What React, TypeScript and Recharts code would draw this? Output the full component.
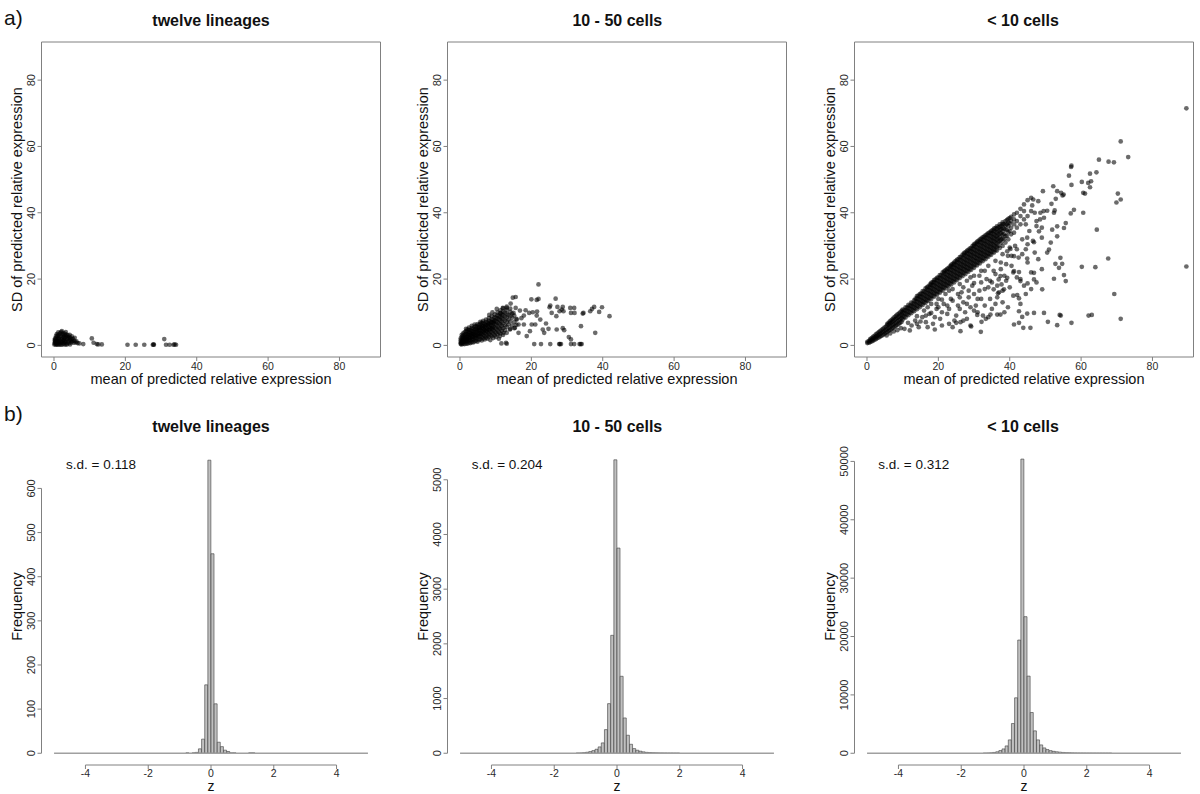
import React from 'react';
import {
  ScatterChart,
  Scatter,
  BarChart,
  Bar,
  XAxis,
  YAxis,
  ReferenceArea,
  ReferenceLine,
  Label,
} from 'recharts';

const FONT = '"Liberation Sans", Arial, Helvetica, sans-serif';
const AXIS = '#808080';
const TICK_TEXT = '#2a2a2a';
const TEXT = '#111';

// ---------- text ----------
const panelTitles = ['twelve lineages', '10 - 50 cells', '< 10 cells'];
const sdLabels = ['s.d. = 0.118', 's.d. = 0.204', 's.d. = 0.312'];
const scatterXTitle = 'mean of predicted relative expression';
const scatterYTitle = 'SD of predicted relative expression';

// ---------- ticks / limits ----------
const scatterTicks = [0, 20, 40, 60, 80];
const scatterDomain: [number, number] = [-3.5, 91.5];
const zTicks = [-4, -2, 0, 2, 4];
const zDomain: [number, number] = [-5.4, 5.4];
const freqTicks1 = [0, 100, 200, 300, 400, 500, 600];
const freqTicks2 = [0, 1000, 2000, 3000, 4000, 5000];
const freqTicks3 = [0, 10000, 20000, 30000, 40000, 50000];
const freqDomain1: [number, number] = [-26.6, 691.6];
const freqDomain2: [number, number] = [-215, 5581];
const freqDomain3: [number, number] = [-2011, 52297];

// ---------- scatter data: [mean, SD] ----------
const lineagePoints: [number, number][] = [
  [0.1, 0.3], [0.2, 0.8], [0.3, 1.3], [0.4, 0.5], [0.5, 1.8], [0.6, 0.9], [0.7, 2.3], [0.8, 0.4],
  [0.9, 1.4], [1.0, 2.8], [1.1, 0.7], [1.2, 1.9], [1.3, 3.2], [1.4, 1.1], [1.5, 2.4], [1.6, 0.5],
  [1.7, 3.6], [1.8, 1.5], [1.9, 2.8], [2.0, 4.0], [2.1, 0.8], [2.2, 2.0], [2.3, 3.3], [2.4, 1.2],
  [2.5, 2.6], [2.6, 3.7], [2.7, 0.6], [2.8, 1.7], [2.9, 3.0], [3.0, 2.2], [3.1, 3.5], [3.2, 0.9],
  [3.3, 1.4], [3.4, 2.7], [3.5, 3.2], [3.6, 0.5], [3.7, 1.9], [3.8, 2.4], [3.9, 3.0], [4.0, 1.2],
  [4.1, 2.0], [4.2, 0.7], [4.3, 2.6], [4.5, 1.5], [4.6, 2.2], [4.8, 0.9], [4.9, 1.8], [5.1, 1.3],
  [5.3, 2.0], [5.5, 0.8], [5.7, 1.4], [6.0, 0.9], [6.3, 1.2], [6.6, 0.7], [7.1, 0.6], [8.2, 0.4],
  [10.6, 2.1], [11.1, 0.8], [12.0, 0.4], [12.4, 0.3], [13.4, 0.3], [20.6, 0.2], [22.9, 0.2],
  [25.3, 0.2], [27.7, 0.2], [28.0, 0.2], [27.9, 0.3], [30.9, 1.9], [31.4, 0.2], [32.4, 0.2],
  [33.5, 0.2], [33.8, 0.3], [34.2, 0.2], [0.3, 2.1], [0.6, 2.9], [1.2, 3.9], [0.2, 1.6], [1.5, 0.2],
  [2.4, 0.3], [3.0, 0.3], [0.8, 3.4], [2.2, 4.3], [3.3, 4.0], [4.4, 3.2], [5.0, 2.7], [5.8, 2.3],
  [0.5, 0.2], [1.0, 0.2], [2.0, 0.2], [3.5, 0.2], [4.5, 0.3], [1.1, 1.2], [1.9, 1.1], [2.6, 1.6],
  [3.1, 1.1], [0.4, 1.1], [1.4, 2.0], [2.8, 2.4],
];

// 10 - 50 cells: dense cloud as columns [mean, SDs...], then scattered points
const midCloud: [number, number[]][] = [
  [0.2, [0.4, 0.9, 1.5, 2.1]],
  [0.5, [0.3, 0.8, 1.3, 1.9, 2.6, 3.2]],
  [0.9, [0.5, 1.0, 1.6, 2.2, 2.9, 3.6]],
  [1.3, [0.4, 1.1, 1.8, 2.5, 3.2, 4.0]],
  [1.7, [0.6, 1.3, 2.0, 2.8, 3.5, 4.3, 5.0]],
  [2.1, [0.5, 1.2, 1.9, 2.6, 3.4, 4.1, 4.8]],
  [2.5, [0.8, 1.6, 2.4, 3.2, 4.0, 4.7, 5.4]],
  [2.9, [0.7, 1.5, 2.3, 3.1, 3.9, 4.6]],
  [3.3, [1.0, 1.9, 2.8, 3.6, 4.4, 5.2, 5.9]],
  [3.7, [0.9, 1.7, 2.6, 3.4, 4.2, 5.0]],
  [4.1, [1.2, 2.1, 3.0, 3.9, 4.8, 5.6, 6.3]],
  [4.5, [1.4, 2.3, 3.2, 4.1, 5.0, 5.8]],
  [4.9, [1.1, 2.0, 2.9, 3.8, 4.7, 5.6, 6.4]],
  [5.3, [1.6, 2.6, 3.5, 4.4, 5.3, 6.1]],
  [5.7, [1.9, 2.9, 3.8, 4.7, 5.6, 6.5, 7.1]],
  [6.1, [1.5, 2.5, 3.4, 4.3, 5.2, 6.0, 6.8]],
  [6.5, [2.1, 3.1, 4.1, 5.0, 5.9, 6.8, 7.4]],
  [6.9, [1.8, 2.8, 3.8, 4.7, 5.6, 6.5]],
  [7.3, [2.3, 3.3, 4.3, 5.3, 6.2, 7.1, 7.8]],
  [7.7, [2.0, 3.0, 4.0, 5.0, 6.0, 6.9]],
  [8.1, [2.6, 3.6, 4.6, 5.6, 6.6, 7.5, 8.2]],
  [8.5, [1.6, 3.0, 4.1, 5.2, 6.2, 7.2]],
  [8.9, [2.8, 4.0, 5.0, 6.0, 7.0, 7.9, 8.8]],
  [9.3, [2.2, 3.5, 4.6, 5.7, 6.7, 7.7]],
  [9.7, [3.0, 4.2, 5.4, 6.5, 7.5, 8.5, 9.3]],
  [10.1, [2.5, 3.8, 5.0, 6.2, 7.3, 8.3]],
  [10.5, [3.3, 4.6, 5.8, 7.0, 8.1, 9.1, 9.9]],
  [10.9, [2.0, 4.0, 5.3, 6.6, 7.8, 8.8]],
  [11.3, [3.6, 5.0, 6.3, 7.5, 8.6, 9.7, 10.6]],
  [11.7, [4.4, 5.8, 7.1, 8.3, 9.4]],
  [12.1, [3.2, 5.2, 6.6, 7.9, 9.1, 10.2, 11.2]],
  [12.6, [4.6, 6.0, 7.4, 8.7, 9.9]],
  [13.1, [3.8, 5.6, 7.0, 8.3, 9.5, 10.7, 11.7]],
  [13.6, [6.3, 7.8, 9.2]],
  [14.1, [5.0, 7.2, 8.8, 10.1, 11.1]],
  [14.6, [6.0, 8.3, 9.6]],
  [15.2, [5.2, 7.0, 9.0]],
  [15.8, [6.2, 8.0]],
];
const midScatter: [number, number][] = [
  [22.0, 18.4], [15.6, 14.6], [14.8, 14.4], [26.8, 14.1], [20.0, 13.9], [21.5, 13.7], [25.1, 11.5],
  [27.3, 11.6], [28.8, 11.6], [30.9, 11.3], [32.0, 11.3], [27.9, 10.3], [29.0, 10.3], [28.5, 10.8],
  [31.1, 9.8], [32.1, 9.8], [34.4, 9.6], [34.6, 9.8], [37.6, 11.6], [37.0, 11.0], [36.5, 10.3],
  [39.0, 10.1], [39.8, 11.5], [41.9, 8.8], [27.0, 8.8], [25.7, 9.8], [25.3, 12.0], [20.4, 10.0],
  [21.5, 9.0], [22.5, 7.8], [21.1, 6.3], [20.1, 6.3], [24.1, 6.6], [27.1, 4.8], [29.2, 4.6],
  [23.2, 4.8], [23.6, 3.8], [19.6, 4.3], [17.9, 6.3], [17.9, 9.0], [19.4, 9.8], [18.7, 2.8],
  [16.4, 3.8], [33.9, 5.8], [37.9, 3.8], [31.1, 1.8], [20.8, 0.4], [22.7, 0.4], [25.3, 0.4],
  [27.8, 0.4], [28.0, 0.4], [28.3, 0.4], [31.1, 0.4], [32.0, 0.4], [33.5, 0.4], [33.8, 0.4],
  [34.1, 0.4], [13.1, 0.5], [14.2, 12.6], [13.1, 11.3], [12.0, 11.3], [11.4, 9.8], [15.6, 11.3],
  [15.0, 9.8], [15.9, 7.8], [16.4, 6.3], [15.4, 5.3], [14.0, 4.8], [12.2, 3.8], [11.2, 2.8],
  [12.9, 0.8], [11.6, 0.6], [16.8, 10.5], [17.2, 8.2], [18.4, 10.6], [22.0, 14.0], [21.6, 10.2],
  [24.8, 5.0], [28.8, 5.2], [30.5, 2.5], [10.3, 11.0], [9.1, 10.0], [8.2, 9.2],
  [0.3, 0.6], [0.7, 1.1], [1.1, 1.4], [1.5, 2.2], [1.9, 1.6], [2.3, 2.9], [2.7, 2.0], [3.1, 3.3],
  [3.5, 2.4], [3.9, 3.6], [4.3, 2.7], [4.7, 4.4], [5.1, 3.2], [5.5, 4.9], [5.9, 3.6], [6.3, 5.5],
  [6.7, 4.4], [7.1, 5.9], [7.5, 4.6], [7.9, 6.3], [8.3, 5.0], [8.7, 6.7], [9.1, 5.3], [9.5, 7.1],
];

// < 10 cells: dense band as columns [mean, SDs...], then scattered points
const lowBand: [number, number[]][] = [
  [0.1, [0.7, 1.1]], [0.5, [0.8, 1.3]], [0.9, [1.0, 1.5, 1.9]], [1.3, [1.2, 1.7, 2.2]],
  [1.7, [1.4, 2.0, 2.6]], [2.1, [1.7, 2.3, 2.9]], [2.5, [1.9, 2.6, 3.3]], [2.9, [2.2, 2.9, 3.6]],
  [3.3, [2.4, 3.2, 4.0]], [3.7, [2.7, 3.5, 4.3]], [4.1, [2.9, 3.8, 4.7]], [4.5, [3.2, 4.1, 5.0]],
  [4.9, [3.5, 4.4, 5.4]], [5.3, [3.8, 4.7, 5.7]], [5.7, [4.1, 5.0, 6.1, 6.5]],
  [6.1, [4.4, 5.3, 6.3, 6.9]], [6.5, [4.7, 5.7, 6.7, 7.3]], [6.9, [5.0, 6.0, 7.0, 7.7]],
  [7.3, [5.3, 6.3, 7.3, 8.1]], [7.7, [5.6, 6.6, 7.7, 8.5]], [8.1, [5.9, 6.9, 8.0, 8.9]],
  [8.5, [6.2, 7.3, 8.4, 9.3]], [8.9, [6.5, 7.6, 8.7, 9.6]], [9.3, [6.8, 7.9, 9.0, 10.0]],
  [9.7, [7.1, 8.2, 9.3, 10.4]],
  [10.0, [7.8, 8.9, 10.0, 10.8]], [10.8, [8.4, 9.5, 10.6, 11.5]], [11.6, [9.1, 10.2, 11.3, 12.2]],
  [12.4, [9.7, 10.8, 11.9, 12.9]], [13.2, [10.3, 11.4, 12.5, 13.6]],
  [14.0, [10.9, 12.0, 13.1, 14.2, 14.9]], [14.8, [11.5, 12.6, 13.7, 14.8, 15.5]],
  [15.6, [12.2, 13.3, 14.4, 15.5, 16.4]], [16.4, [12.8, 13.9, 15.0, 16.1, 17.2]],
  [17.2, [13.4, 14.5, 15.6, 16.7, 17.8]], [18.0, [14.0, 15.1, 16.2, 17.3, 18.4, 18.9]],
  [18.8, [14.7, 15.8, 16.9, 18.0, 19.1, 19.7]], [19.6, [15.3, 16.4, 17.5, 18.6, 19.7, 20.4]],
  [20.4, [15.9, 17.0, 18.1, 19.2, 20.3, 21.2]], [21.2, [16.5, 17.6, 18.7, 19.8, 20.9, 22.0]],
  [22.0, [17.2, 18.3, 19.4, 20.5, 21.6, 22.7]], [22.8, [17.8, 18.9, 20.0, 21.1, 22.2, 23.3]],
  [23.6, [18.4, 19.5, 20.6, 21.7, 22.8, 23.9, 24.3]], [24.4, [19.0, 20.1, 21.2, 22.3, 23.4, 24.5, 25.0]],
  [25.2, [19.7, 20.8, 21.9, 23.0, 24.1, 25.2, 25.8]], [26.0, [20.3, 21.4, 22.5, 23.6, 24.7, 25.8, 26.6]],
  [26.8, [20.9, 22.0, 23.1, 24.2, 25.3, 26.4, 27.4]], [27.6, [21.5, 22.6, 23.7, 24.8, 25.9, 27.0, 28.1]],
  [28.4, [22.2, 23.3, 24.4, 25.5, 26.6, 27.7, 28.8]], [29.2, [22.8, 23.9, 25.0, 26.1, 27.2, 28.3, 29.4]],
  [30.0, [23.4, 24.5, 25.6, 26.7, 27.8, 28.9, 30.0, 30.5]],
  [30.8, [24.1, 25.2, 26.3, 27.4, 28.5, 29.6, 30.7, 31.2]],
  [31.6, [24.7, 25.8, 26.9, 28.0, 29.1, 30.2, 31.3, 31.9]],
  [32.4, [25.4, 26.5, 27.6, 28.7, 29.8, 30.9, 32.0, 32.6]],
  [33.2, [26.0, 27.1, 28.2, 29.3, 30.4, 31.5, 32.6, 33.2]],
  [34.0, [26.7, 27.8, 28.9, 30.0, 31.1, 32.2, 33.3, 33.9]],
  [34.8, [27.3, 28.4, 29.5, 30.6, 31.7, 32.8, 33.9, 34.5]],
  [35.6, [28.0, 29.1, 30.2, 31.3, 32.4, 33.5, 34.6, 35.2]],
  [36.4, [28.6, 29.7, 30.8, 31.9, 33.0, 34.1, 35.2, 35.9]],
  [37.2, [29.4, 31.5, 32.6, 33.7, 34.8, 35.8, 36.5]],
  [38.0, [30.0, 32.2, 33.3, 34.4, 35.5, 36.6, 37.1]],
  [38.8, [31.0, 33.0, 35.0, 36.2, 37.5]], [39.6, [32.0, 34.2, 36.0, 37.0, 38.2]],
  [40.4, [33.5, 35.5, 37.5, 38.8]], [41.2, [34.0, 36.5, 38.0, 39.5]], [42.0, [35.5, 37.5, 40.0]],
  [43.0, [36.5, 39.0, 41.2]], [44.0, [38.0, 40.5, 42.5]], [45.0, [39.0, 43.8]], [46.0, [40.5, 44.5]],
];
// extra band points lying between the columns above
const lowBandFill: [number, number[]][] = [
  [10.4, [8.6, 9.7, 10.6]], [11.2, [9.3, 10.4, 11.4]], [12.0, [9.9, 11.0, 12.0]],
  [12.8, [10.5, 11.6, 12.7]], [13.6, [11.2, 12.3, 13.4, 14.1]], [14.4, [11.8, 12.9, 14.0, 15.0]],
  [15.2, [12.4, 13.5, 14.6, 15.7]], [16.0, [13.0, 14.1, 15.2, 16.3]],
  [16.8, [13.6, 14.7, 15.8, 16.9, 17.5]], [17.6, [14.3, 15.4, 16.5, 17.6, 18.3]],
  [18.4, [14.9, 16.0, 17.1, 18.2, 19.1]], [19.2, [15.5, 16.6, 17.7, 18.8, 19.9]],
  [20.0, [16.1, 17.2, 18.3, 19.4, 20.5]], [20.8, [16.8, 17.9, 19.0, 20.1, 21.2]],
  [21.6, [17.4, 18.5, 19.6, 20.7, 21.8, 22.3]], [22.4, [18.0, 19.1, 20.2, 21.3, 22.4, 23.0]],
  [23.2, [18.6, 19.7, 20.8, 21.9, 23.0, 23.8]], [24.0, [19.3, 20.4, 21.5, 22.6, 23.7, 24.6]],
  [24.8, [19.9, 21.0, 22.1, 23.2, 24.3, 25.4]], [25.6, [20.5, 21.6, 22.7, 23.8, 24.9, 26.0]],
  [26.4, [21.2, 22.3, 23.4, 24.5, 25.6, 26.7]], [27.2, [21.8, 22.9, 24.0, 25.1, 26.2, 27.3, 27.8]],
  [28.0, [22.4, 23.5, 24.6, 25.7, 26.8, 27.9, 28.5]], [28.8, [23.0, 24.1, 25.2, 26.3, 27.4, 28.5, 29.2]],
  [29.6, [23.7, 24.8, 25.9, 27.0, 28.1, 29.2, 30.0]], [30.4, [24.3, 25.4, 26.5, 27.6, 28.7, 29.8, 30.8]],
  [31.2, [24.9, 26.0, 27.1, 28.2, 29.3, 30.4, 31.5]], [32.0, [25.6, 26.7, 27.8, 28.9, 30.0, 31.1, 32.2]],
  [32.8, [26.2, 27.3, 28.4, 29.5, 30.6, 31.7, 32.8]], [33.6, [26.9, 28.0, 29.1, 30.2, 31.3, 32.4, 33.5]],
  [34.4, [27.5, 28.6, 29.7, 30.8, 31.9, 33.0, 34.1]], [35.2, [28.2, 29.3, 30.4, 31.5, 32.6, 33.7, 34.8]],
  [36.0, [28.8, 29.9, 31.0, 32.1, 33.2, 34.3, 35.4]], [36.8, [30.0, 31.2, 32.3, 33.4, 34.5, 35.6]],
  [37.6, [31.0, 32.0, 33.8, 35.0, 36.0]], [38.4, [32.0, 33.6, 35.2, 36.6]],
  [39.2, [33.0, 34.8, 36.5, 37.8]], [40.0, [34.5, 36.8, 38.4]],
];
const lowScatter: [number, number][] = [
  [5.5, 3.0], [6.5, 3.6], [7.5, 4.2], [8.5, 4.6], [9.5, 5.2], [10.5, 5.0], [11.5, 6.8], [12.5, 6.0],
  [13.5, 7.5], [14.5, 5.5], [15.5, 8.5], [16.5, 7.0], [17.5, 9.5], [18.5, 6.5], [19.5, 11.0],
  [20.5, 8.0], [21.5, 12.5], [22.5, 9.5], [23.5, 14.0], [24.5, 7.5], [25.5, 12.0], [26.5, 16.0],
  [27.5, 10.0], [28.5, 14.5], [29.5, 18.0], [30.5, 12.0], [31.5, 16.5], [32.5, 9.0], [33.5, 20.0],
  [34.5, 14.0], [35.5, 22.5], [36.5, 18.0], [37.5, 25.0], [38.5, 21.0], [39.5, 27.0], [40.5, 24.0],
  [41.5, 30.0], [42.5, 26.5], [43.5, 32.0], [44.5, 29.0], [45.5, 34.5], [46.5, 31.5], [47.5, 36.0],
  [48.5, 38.0], [49.5, 40.5], [12.0, 4.5], [14.0, 8.8], [16.0, 10.5], [18.0, 12.5], [20.0, 14.0],
  [22.0, 15.5], [24.0, 17.0], [26.0, 18.5], [28.0, 19.5], [30.0, 21.0], [32.0, 22.5], [34.0, 24.0],
  [36.0, 25.5], [38.0, 27.5], [40.0, 29.5], [17.0, 5.5], [19.0, 8.5], [21.0, 10.0], [23.0, 11.0],
  [25.0, 9.0], [27.0, 13.0], [29.0, 11.5], [31.0, 14.0], [33.0, 17.0], [35.0, 19.0], [37.0, 16.0],
  [39.0, 19.5], [41.0, 22.0], [43.0, 20.0], [45.0, 25.0], [47.0, 28.0], [49.0, 32.5], [26.0, 11.0],
  [28.0, 8.0], [30.0, 15.5], [32.0, 19.0], [34.0, 8.5], [36.0, 12.5], [38.0, 16.5], [40.0, 17.5],
  [42.0, 20.5], [44.0, 18.0], [46.0, 22.0], [48.0, 26.0], [23.0, 6.5], [27.0, 7.5], [29.0, 6.0],
  [31.0, 10.0], [15.0, 7.2], [16.5, 9.0], [18.0, 9.8], [19.5, 12.5], [21.0, 13.8], [22.5, 12.0],
  [24.0, 13.5], [25.5, 15.5], [27.0, 17.5], [28.5, 16.5], [30.0, 18.8], [31.5, 21.0], [33.0, 22.5],
  [34.5, 19.5], [36.0, 21.5], [37.5, 23.0], [39.0, 24.5], [40.5, 27.0], [42.0, 29.0], [43.5, 27.5],
  [45.0, 30.5], [19.0, 4.8], [21.0, 6.0], [24.0, 5.5], [25.0, 6.8], [28.0, 12.5], [30.0, 10.5],
  [33.0, 12.0], [35.0, 11.0], [36.5, 14.5], [38.0, 13.0], [39.5, 11.5], [41.0, 15.0], [43.0, 12.5],
  [44.5, 15.5], [46.0, 17.0], [47.5, 19.0], [49.0, 23.0], [50.5, 28.0], [51.5, 31.0], [49.0, 35.5],
  [47.0, 40.0], [32.0, 14.0], [34.0, 17.5], [29.0, 20.5], [26.0, 14.5], [23.0, 16.5], [20.0, 11.5],
  [17.0, 11.5], [14.0, 6.5],
  // outlying points
  [89.5, 71.5], [89.5, 23.8], [71.1, 61.5], [73.2, 56.8], [67.7, 55.4], [65.0, 56.0], [69.2, 55.2],
  [70.3, 45.8], [71.1, 44.0], [69.9, 43.1], [64.3, 52.2], [62.5, 51.8], [62.8, 49.5], [60.2, 49.3],
  [62.0, 49.0], [61.1, 45.8], [62.5, 47.7], [57.3, 54.2], [57.2, 53.8], [56.6, 51.2], [57.3, 48.4],
  [54.4, 46.0], [55.1, 45.5], [54.8, 45.2], [52.2, 48.0], [53.3, 46.5], [52.9, 44.2], [51.7, 42.7],
  [49.3, 46.5], [46.6, 44.0], [46.3, 42.2], [48.6, 40.0], [50.5, 40.6], [52.6, 40.7], [58.0, 40.9],
  [57.1, 39.8], [60.6, 40.0], [64.4, 34.9], [60.6, 46.0], [67.6, 26.2], [64.0, 23.6], [60.2, 23.7],
  [69.3, 15.5], [71.1, 8.0], [62.1, 9.0], [63.0, 9.2], [57.3, 6.8], [54.3, 9.0], [54.0, 9.2],
  [53.3, 6.1], [50.7, 7.1], [49.6, 9.8], [46.8, 9.8], [44.9, 9.6], [43.5, 8.6], [43.8, 5.3],
  [45.8, 5.3], [42.6, 6.8], [41.2, 6.3], [42.6, 10.3], [38.5, 10.0], [37.4, 9.3], [36.5, 9.3],
  [34.6, 9.3], [33.3, 8.0], [31.9, 4.1], [29.2, 5.7], [26.2, 4.3], [26.2, 7.0], [32.1, 7.1],
  [30.9, 9.2], [36.7, 15.7], [38.4, 16.9], [37.7, 18.4], [37.4, 20.9], [39.3, 20.4], [35.5, 16.9],
  [36.9, 19.9], [42.1, 15.2], [42.6, 14.2], [43.0, 19.4], [45.0, 18.7], [46.8, 19.9], [49.1, 16.9],
  [42.6, 22.1], [44.9, 26.2], [44.9, 32.5], [46.8, 31.1], [48.2, 34.4], [49.6, 38.5], [52.4, 40.0],
  [51.0, 28.9], [52.8, 24.6], [54.7, 24.6], [54.2, 26.4], [55.2, 21.2], [55.7, 19.4], [53.8, 23.4],
  [52.4, 20.1], [46.8, 21.9], [41.2, 22.4], [40.2, 29.1], [39.3, 28.4], [41.2, 26.9], [51.9, 34.9],
  [53.3, 32.9], [55.2, 35.4], [55.7, 36.9], [53.3, 35.9], [47.5, 37.5], [48.0, 43.5], [44.5, 36.5],
];

// ---------- histogram data: bin mid-points and frequencies ----------
const zBins1 = [-0.75, -0.65, -0.55, -0.45, -0.35, -0.25, -0.15, -0.05, 0.05, 0.15, 0.25, 0.35, 0.45, 0.55, 0.65, 0.75, 1.25, 1.35];
const freq1 = [1, 0, 1, 2, 10, 32, 155, 664, 452, 112, 25, 15, 7, 4, 1, 1, 1, 1];

const zBins2 = [-1.25, -1.15, -1.05, -0.95, -0.85, -0.75, -0.65, -0.55, -0.45, -0.35, -0.25, -0.15, -0.05,
  0.05, 0.15, 0.25, 0.35, 0.45, 0.55, 0.65, 0.75, 0.85, 0.95, 1.05, 1.15, 1.25, 1.35, 1.45, 1.55, 1.65, 1.75, 1.85, 1.95];
const freq2 = [3, 5, 10, 18, 30, 48, 73, 116, 189, 432, 907, 2156, 5365,
  3751, 1407, 645, 329, 164, 85, 55, 37, 25, 16, 12, 9, 7, 5, 4, 3, 2, 2, 1, 1];

const zBins3 = [-1.25, -1.15, -1.05, -0.95, -0.85, -0.75, -0.65, -0.55, -0.45, -0.35, -0.25, -0.15, -0.05,
  0.05, 0.15, 0.25, 0.35, 0.45, 0.55, 0.65, 0.75, 0.85, 0.95, 1.05, 1.15, 1.25, 1.35, 1.45, 1.55, 1.65,
  1.75, 1.85, 1.95, 2.05, 2.15, 2.25, 2.35, 2.45, 2.55, 2.65, 2.75];
const freq3 = [15, 35, 70, 140, 250, 458, 745, 1260, 2291, 5092, 9497, 19394, 50400,
  23400, 13215, 6980, 3837, 2291, 1432, 916, 630, 450, 330, 250, 190, 140, 105, 80, 60, 45,
  35, 27, 20, 15, 12, 9, 7, 5, 4, 3, 2];

// ---------- helpers ----------
const toPts = (arr: [number, number][]) => arr.map(([m, s]) => ({ m, s }));
const fromCols = (cols: [number, number[]][]) => cols.flatMap(([m, ys]) => ys.map((s) => ({ m, s })));

const dot = (p: any) => <circle cx={p.cx} cy={p.cy} r={2.35} fill="#000" fillOpacity={0.58} />;

const RotTick = (props: any) => {
  const { x, y, payload } = props;
  return (
    <text
      x={x}
      y={y}
      transform={`rotate(-90 ${x} ${y})`}
      textAnchor="middle"
      fontSize={11}
      fill={TICK_TEXT}
      fontFamily={FONT}
    >
      {payload.value}
    </text>
  );
};

const makeXTick = (size: number) => (props: any) => {
  const { x, y, payload } = props;
  return (
    <text x={x} y={y} dy="0.72em" textAnchor="middle" fontSize={size} fill={TICK_TEXT} fontFamily={FONT}>
      {payload.value}
    </text>
  );
};
const XTickTop = makeXTick(10.5);
const XTickHist = makeXTick(10.5);

const yTitle = (text: string) => (props: any) => {
  const vb = props.viewBox || {};
  const cx = (vb.x ?? 0) + 5;
  const cy = (vb.y ?? 0) + (vb.height ?? 0) / 2;
  return (
    <text
      x={cx}
      y={cy}
      dy="0.36em"
      transform={`rotate(-90 ${cx} ${cy})`}
      textAnchor="middle"
      fontSize={14.5}
      fill={TEXT}
      fontFamily={FONT}
    >
      {text}
    </text>
  );
};

const xTitle = (text: string, off: number, size = 14.5) => (props: any) => {
  const vb = props.viewBox || {};
  const cx = (vb.x ?? 0) + (vb.width ?? 0) / 2;
  const cy = (vb.y ?? 0) + (vb.height ?? 0) - off;
  return (
    <text x={cx} y={cy} textAnchor="middle" fontSize={size} fill={TEXT} fontFamily={FONT}>
      {text}
    </text>
  );
};

const colLefts = [0, 406, 812.5];
const CHART_W = 388;

function ScatterPanel({ data, idx }: { data: { m: number; s: number }[]; idx: number }) {
  return (
    <div style={{ position: 'absolute', left: colLefts[idx], top: 0 }}>
      <ScatterChart width={CHART_W} height={390} margin={{ top: 42, right: 7.5, bottom: 0, left: 11.5 }}>
        <XAxis
          type="number"
          dataKey="m"
          domain={scatterDomain}
          ticks={scatterTicks}
          allowDataOverflow
          interval={0}
          axisLine={false}
          tickLine={{ stroke: AXIS }}
          tickSize={4}
          tickMargin={1}
          height={33}
          tick={<XTickTop />}
        >
          <Label content={xTitle(scatterXTitle, 6)} />
        </XAxis>
        <YAxis
          type="number"
          dataKey="s"
          domain={scatterDomain}
          ticks={scatterTicks}
          allowDataOverflow
          interval={0}
          axisLine={false}
          tickLine={{ stroke: AXIS }}
          tickSize={4}
          tickMargin={2}
          width={30}
          tick={<RotTick />}
        >
          <Label content={yTitle(scatterYTitle)} />
        </YAxis>
        <Scatter data={data} isAnimationActive={false} shape={dot} />
        <ReferenceArea
          x1={scatterDomain[0]}
          x2={scatterDomain[1]}
          y1={scatterDomain[0]}
          y2={scatterDomain[1]}
          fill="none"
          fillOpacity={0}
          stroke={AXIS}
          strokeWidth={1}
          ifOverflow="visible"
        />
      </ScatterChart>
    </div>
  );
}

function HistPanel({
  bins,
  counts,
  yDomain,
  yTicks,
  idx,
}: {
  bins: number[];
  counts: number[];
  yDomain: [number, number];
  yTicks: number[];
  idx: number;
}) {
  const data = bins.map((z, i) => ({ z, n: counts[i] }));
  const yTop = yTicks[yTicks.length - 1];
  return (
    <div style={{ position: 'absolute', left: colLefts[idx], top: 390 }}>
      <BarChart
        width={CHART_W}
        height={404}
        data={data}
        margin={{ top: 58, right: 7.5, bottom: 0, left: 11.5 }}
        barCategoryGap={0}
        barGap={0}
      >
        <XAxis
          type="number"
          dataKey="z"
          domain={zDomain}
          ticks={zTicks}
          allowDataOverflow
          interval={0}
          axisLine={false}
          tickLine={{ stroke: AXIS }}
          tickSize={4}
          tickMargin={0}
          height={29}
          tick={<XTickHist />}
        >
          <Label content={xTitle('z', 3, 14)} />
        </XAxis>
        <YAxis
          type="number"
          domain={yDomain}
          ticks={yTicks}
          allowDataOverflow
          interval={0}
          axisLine={false}
          tickLine={{ stroke: AXIS }}
          tickSize={4}
          tickMargin={2}
          width={30}
          tick={<RotTick />}
        >
          <Label content={yTitle('Frequency')} />
        </YAxis>
        <ReferenceLine
          segment={[{ x: -5, y: 0 }, { x: 5, y: 0 }]}
          stroke="#a0a0a0"
          strokeWidth={1.5}
          ifOverflow="visible"
        />
        <Bar dataKey="n" fill="#c0c0c0" stroke="#3a3a3a" strokeWidth={0.6} isAnimationActive={false} />
        <ReferenceLine
          segment={[{ x: zTicks[0], y: yDomain[0] }, { x: zTicks[zTicks.length - 1], y: yDomain[0] }]}
          stroke={AXIS}
          ifOverflow="visible"
        />
        <ReferenceLine
          segment={[{ x: zDomain[0], y: 0 }, { x: zDomain[0], y: yTop }]}
          stroke={AXIS}
          ifOverflow="visible"
        />
      </BarChart>
    </div>
  );
}

const titleCenters = [211, 617.3, 1023];
const sdLefts = [66, 471.7, 878.3];

const Txt = ({
  x,
  y,
  children,
  size,
  bold,
  anchor = 'center',
}: {
  x: number;
  y: number;
  children: React.ReactNode;
  size: number;
  bold?: boolean;
  anchor?: 'center' | 'left';
}) => (
  <div
    style={{
      position: 'absolute',
      left: x,
      top: y,
      transform: anchor === 'center' ? 'translate(-50%, -50%)' : 'translate(0, -50%)',
      fontFamily: FONT,
      fontSize: size,
      fontWeight: bold ? 700 : 400,
      lineHeight: 1,
      whiteSpace: 'nowrap',
      color: TEXT,
    }}
  >
    {children}
  </div>
);

export default function App() {
  const p1 = toPts(lineagePoints);
  const p2 = [...fromCols(midCloud), ...toPts(midScatter)];
  const p3 = [...fromCols(lowBand), ...fromCols(lowBandFill), ...toPts(lowScatter)];
  return (
    <div
      style={{
        position: 'absolute',
        left: 0,
        top: 0,
        width: 1200,
        height: 794,
        background: '#fff',
        overflow: 'hidden',
      }}
    >
      <ScatterPanel data={p1} idx={0} />
      <ScatterPanel data={p2} idx={1} />
      <ScatterPanel data={p3} idx={2} />
      <HistPanel bins={zBins1} counts={freq1} yDomain={freqDomain1} yTicks={freqTicks1} idx={0} />
      <HistPanel bins={zBins2} counts={freq2} yDomain={freqDomain2} yTicks={freqTicks2} idx={1} />
      <HistPanel bins={zBins3} counts={freq3} yDomain={freqDomain3} yTicks={freqTicks3} idx={2} />

      <Txt x={4} y={17} size={21} anchor="left">a)</Txt>
      <Txt x={4} y={413} size={21} anchor="left">b)</Txt>
      {panelTitles.map((t, i) => (
        <Txt key={'t' + i} x={titleCenters[i]} y={20.5} size={16} bold>
          {t}
        </Txt>
      ))}
      {panelTitles.map((t, i) => (
        <Txt key={'b' + i} x={titleCenters[i]} y={427} size={16} bold>
          {t}
        </Txt>
      ))}
      {sdLabels.map((t, i) => (
        <Txt key={'s' + i} x={sdLefts[i]} y={465} size={13.5} anchor="left">
          {t}
        </Txt>
      ))}
    </div>
  );
}
